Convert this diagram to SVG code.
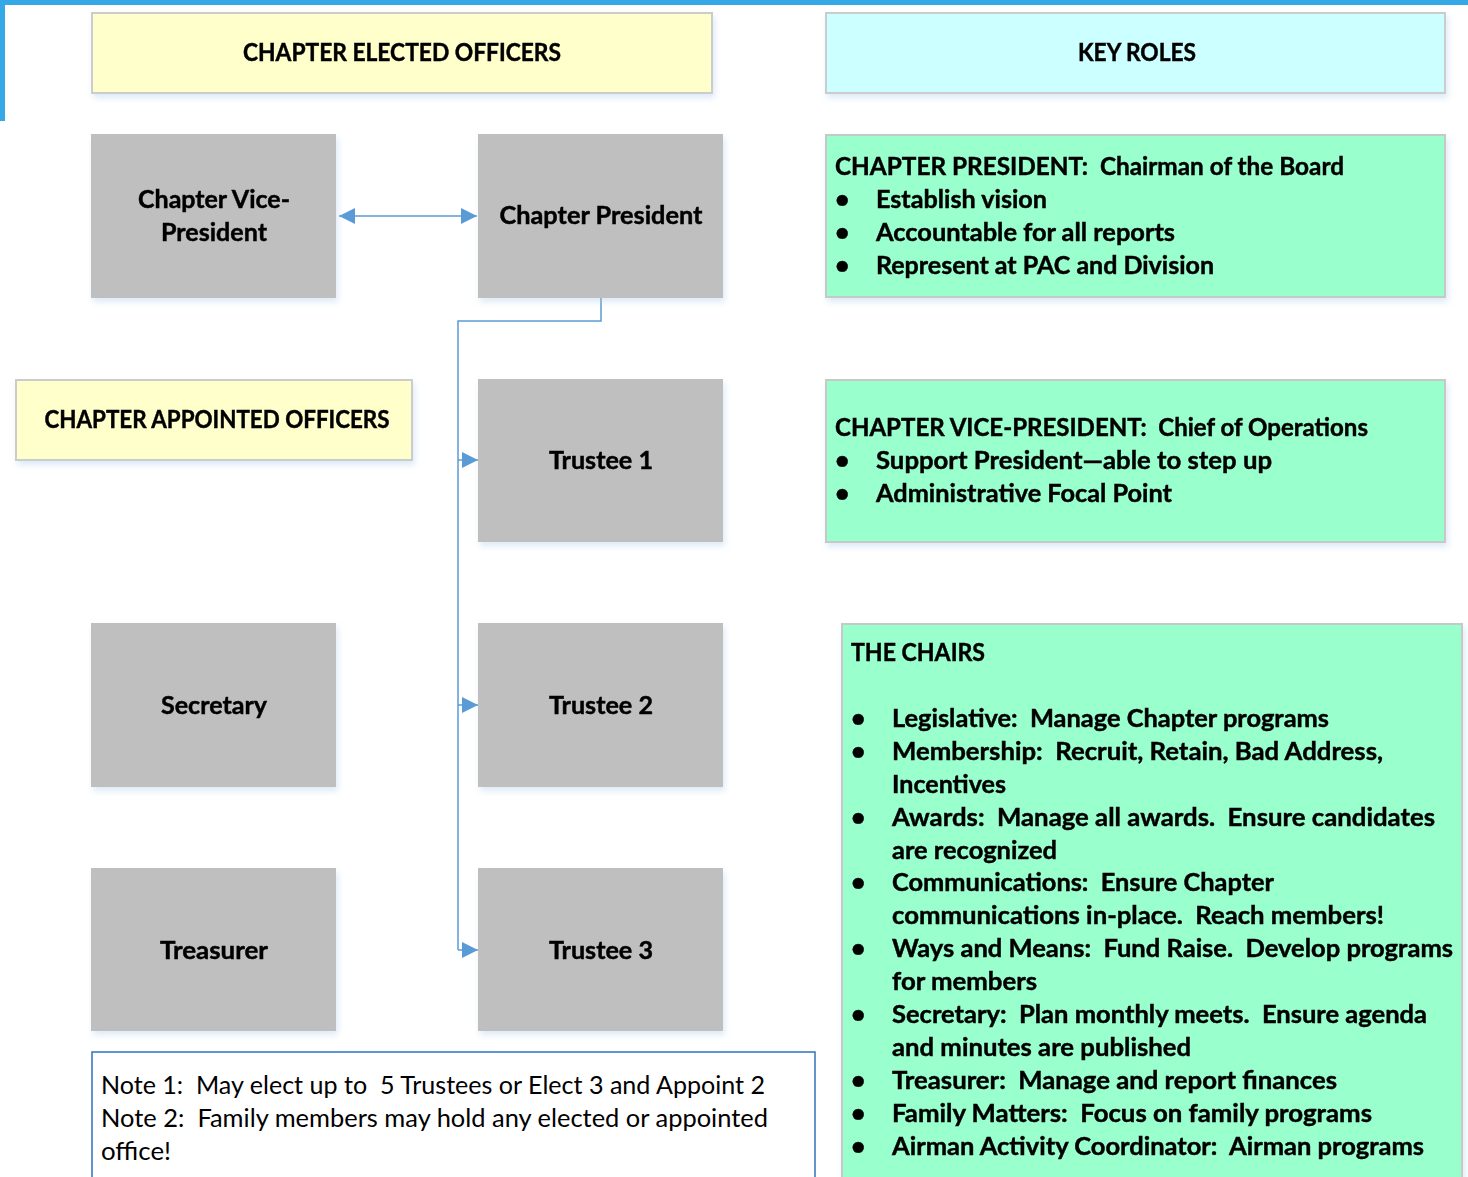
<svg xmlns="http://www.w3.org/2000/svg" width="1468" height="1177" viewBox="0 0 1468 1177">
<defs>
<style>
text{white-space:pre}
.t{font-family:Lato,"Liberation Sans",sans-serif;font-weight:bold;font-size:25px;fill:#000;stroke:#000;stroke-width:0.45}
.c{text-anchor:middle}
.n{font-family:Lato,"Liberation Sans",sans-serif;font-size:25px;fill:#000}
.hdrY{fill:#FFFFCC;stroke:#CCCCCC;stroke-width:2}
.hdrC{fill:#CCFFFF;stroke:#CCCCCC;stroke-width:2}
.grey{fill:#BFBFBF}
.grn{fill:#99FFCC;stroke:#C8C8C8;stroke-width:2}
.conn{fill:none;stroke:#5B9BD5;stroke-width:1.5}
</style>
<filter id="sh" x="-5%" y="-5%" width="115%" height="125%">
<feDropShadow dx="2" dy="4" stdDeviation="3" flood-color="#9DC3E6" flood-opacity="0.35"/>
</filter>
<marker id="ah" viewBox="0 0 10 10" refX="10" refY="5" markerWidth="16" markerHeight="16" markerUnits="userSpaceOnUse" orient="auto-start-reverse">
<path d="M0,0 L10,5 L0,10 z" fill="#5B9BD5"/>
</marker>
</defs>
<rect x="0" y="0" width="1468" height="1177" fill="#fff"/>
<rect x="0" y="0" width="1468" height="5" fill="#35A9E8"/>
<rect x="0" y="0" width="5" height="121" fill="#35A9E8"/>

<g id="connectors">
<line class="conn" x1="339" y1="216" x2="477" y2="216" marker-start="url(#ah)" marker-end="url(#ah)"/>
<polyline class="conn" points="601,298 601,321 458,321 458,950"/>
<line class="conn" x1="458" y1="460" x2="478" y2="460" marker-end="url(#ah)"/>
<line class="conn" x1="458" y1="705" x2="478" y2="705" marker-end="url(#ah)"/>
<line class="conn" x1="458" y1="950" x2="478" y2="950" marker-end="url(#ah)"/>
</g>

<g id="elected-header" filter="url(#sh)">
<rect class="hdrY" x="92" y="13" width="620" height="80"/>
<text class="t c" x="402" y="61" textLength="318" lengthAdjust="spacingAndGlyphs">CHAPTER ELECTED OFFICERS</text>
</g>
<g id="keyroles-header" filter="url(#sh)">
<rect class="hdrC" x="826" y="13" width="619" height="80"/>
<text class="t c" x="1137" y="61" textLength="118" lengthAdjust="spacingAndGlyphs">KEY ROLES</text>
</g>
<g id="vice-president" filter="url(#sh)">
<rect class="grey" x="91" y="134" width="245" height="164"/>
<text class="t c" x="214" y="208" textLength="152" lengthAdjust="spacingAndGlyphs">Chapter Vice-</text>
<text class="t c" x="214" y="241" textLength="106" lengthAdjust="spacingAndGlyphs">President</text>
</g>
<g id="president" filter="url(#sh)">
<rect class="grey" x="478" y="134" width="245" height="164"/>
<text class="t c" x="601" y="224" textLength="203" lengthAdjust="spacingAndGlyphs">Chapter President</text>
</g>
<g id="appointed-header" filter="url(#sh)">
<rect class="hdrY" x="16" y="380" width="396" height="80"/>
<text class="t c" x="217" y="428" textLength="345" lengthAdjust="spacingAndGlyphs">CHAPTER APPOINTED OFFICERS</text>
</g>
<g id="trustee1" filter="url(#sh)">
<rect class="grey" x="478" y="379" width="245" height="163"/>
<text class="t c" x="601" y="469" textLength="104" lengthAdjust="spacingAndGlyphs">Trustee 1</text>
</g>
<g id="secretary" filter="url(#sh)">
<rect class="grey" x="91" y="623" width="245" height="164"/>
<text class="t c" x="214" y="714" textLength="106" lengthAdjust="spacingAndGlyphs">Secretary</text>
</g>
<g id="trustee2" filter="url(#sh)">
<rect class="grey" x="478" y="623" width="245" height="164"/>
<text class="t c" x="601" y="714" textLength="104" lengthAdjust="spacingAndGlyphs">Trustee 2</text>
</g>
<g id="treasurer" filter="url(#sh)">
<rect class="grey" x="91" y="868" width="245" height="163"/>
<text class="t c" x="214" y="959" textLength="108" lengthAdjust="spacingAndGlyphs">Treasurer</text>
</g>
<g id="trustee3" filter="url(#sh)">
<rect class="grey" x="478" y="868" width="245" height="163"/>
<text class="t c" x="601" y="959" textLength="104" lengthAdjust="spacingAndGlyphs">Trustee 3</text>
</g>

<g id="president-role" filter="url(#sh)">
<rect class="grn" x="826" y="135" width="619" height="162"/>
<text class="t" x="835" y="175" textLength="509" lengthAdjust="spacingAndGlyphs">CHAPTER PRESIDENT:  Chairman of the Board</text>
<text class="t" x="835" y="208">•</text><text class="t" x="876" y="208" textLength="171" lengthAdjust="spacingAndGlyphs">Establish vision</text>
<text class="t" x="835" y="241">•</text><text class="t" x="876" y="241" textLength="299" lengthAdjust="spacingAndGlyphs">Accountable for all reports</text>
<text class="t" x="835" y="274">•</text><text class="t" x="876" y="274" textLength="338" lengthAdjust="spacingAndGlyphs">Represent at PAC and Division</text>
</g>
<g id="vp-role" filter="url(#sh)">
<rect class="grn" x="826" y="380" width="619" height="162"/>
<text class="t" x="835" y="436" textLength="533" lengthAdjust="spacingAndGlyphs">CHAPTER VICE-PRESIDENT:  Chief of Operations</text>
<text class="t" x="835" y="469">•</text><text class="t" x="876" y="469" textLength="396" lengthAdjust="spacingAndGlyphs">Support President—able to step up</text>
<text class="t" x="835" y="502">•</text><text class="t" x="876" y="502" textLength="296" lengthAdjust="spacingAndGlyphs">Administrative Focal Point</text>
</g>
<g id="chairs-role" filter="url(#sh)">
<rect class="grn" x="842" y="624" width="620" height="560"/>
<text class="t" x="851" y="661" textLength="134" lengthAdjust="spacingAndGlyphs">THE CHAIRS</text>
<text class="t" x="851" y="727">•</text><text class="t" x="892" y="727" textLength="437" lengthAdjust="spacingAndGlyphs">Legislative:  Manage Chapter programs</text>
<text class="t" x="851" y="760">•</text><text class="t" x="892" y="760" textLength="491" lengthAdjust="spacingAndGlyphs">Membership:  Recruit, Retain, Bad Address,</text>
<text class="t" x="892" y="793" textLength="114" lengthAdjust="spacingAndGlyphs">Incentives</text>
<text class="t" x="851" y="826">•</text><text class="t" x="892" y="826" textLength="543" lengthAdjust="spacingAndGlyphs">Awards:  Manage all awards.  Ensure candidates</text>
<text class="t" x="892" y="859" textLength="165" lengthAdjust="spacingAndGlyphs">are recognized</text>
<text class="t" x="851" y="891">•</text><text class="t" x="892" y="891" textLength="382" lengthAdjust="spacingAndGlyphs">Communications:  Ensure Chapter</text>
<text class="t" x="892" y="924" textLength="492" lengthAdjust="spacingAndGlyphs">communications in-place.  Reach members!</text>
<text class="t" x="851" y="957">•</text><text class="t" x="892" y="957" textLength="561" lengthAdjust="spacingAndGlyphs">Ways and Means:  Fund Raise.  Develop programs</text>
<text class="t" x="892" y="990" textLength="145" lengthAdjust="spacingAndGlyphs">for members</text>
<text class="t" x="851" y="1023">•</text><text class="t" x="892" y="1023" textLength="535" lengthAdjust="spacingAndGlyphs">Secretary:  Plan monthly meets.  Ensure agenda</text>
<text class="t" x="892" y="1056" textLength="299" lengthAdjust="spacingAndGlyphs">and minutes are published</text>
<text class="t" x="851" y="1089">•</text><text class="t" x="892" y="1089" textLength="445" lengthAdjust="spacingAndGlyphs">Treasurer:  Manage and report finances</text>
<text class="t" x="851" y="1122">•</text><text class="t" x="892" y="1122" textLength="480" lengthAdjust="spacingAndGlyphs">Family Matters:  Focus on family programs</text>
<text class="t" x="851" y="1155">•</text><text class="t" x="892" y="1155" textLength="532" lengthAdjust="spacingAndGlyphs">Airman Activity Coordinator:  Airman programs</text>
</g>
<g id="notes">
<rect x="92" y="1052" width="723" height="140" fill="#fff" stroke="#2E75B6" stroke-width="1.5"/>
<text class="n" x="101" y="1094" textLength="664" lengthAdjust="spacingAndGlyphs">Note 1:  May elect up to  5 Trustees or Elect 3 and Appoint 2</text>
<text class="n" x="101" y="1127" textLength="667" lengthAdjust="spacingAndGlyphs">Note 2:  Family members may hold any elected or appointed</text>
<text class="n" x="101" y="1160" textLength="70" lengthAdjust="spacingAndGlyphs">office!</text>
</g>
</svg>
